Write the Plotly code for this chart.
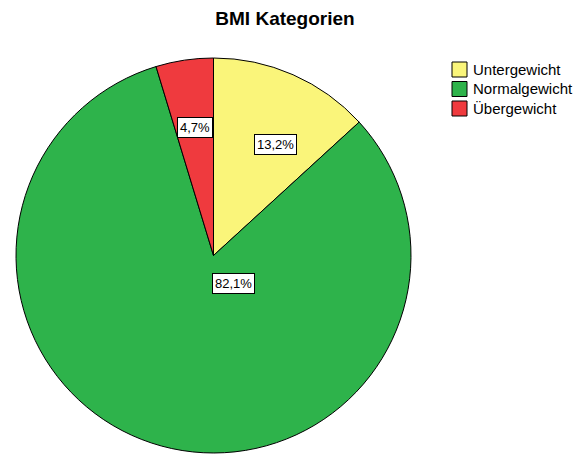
import plotly.graph_objects as go

# Data
categories = ["Untergewicht", "Normalgewicht", "Übergewicht"]
percent_values = [13.2, 82.1, 4.7]
slice_colors = ["#FAF57A", "#2EB34B", "#EF3A3E"]
title_text = "BMI Kategorien"

# Page body has an 8px margin; figure size chosen to fit the window
OFF = 8
W, H = 580, 446


def px(sx):
    return (sx - OFF) / W


def py(sy):
    return 1 - (sy - OFF) / H


FONT = "Liberation Sans, Arial, sans-serif"

fig = go.Figure()
fig.add_trace(go.Pie(
    labels=categories,
    values=percent_values,
    sort=False,
    direction="clockwise",
    rotation=0,
    textinfo="none",
    hoverinfo="label+percent",
    showlegend=False,
    marker=dict(colors=slice_colors, line=dict(color="black", width=1)),
    domain=dict(x=[px(16), px(411)], y=[py(453), py(58)]),
))

# Percentage label boxes (layout positions in screen pixels, text from data)
label_pos = [(275, 144), (233.5, 283), (194.5, 127)]
for val, (sx, sy) in zip(percent_values, label_pos):
    fig.add_annotation(
        x=px(sx), y=py(sy), xref="paper", yref="paper",
        text=f"{val:.1f}%".replace(".", ","),
        showarrow=False,
        font=dict(family=FONT, size=13, color="black"),
        bgcolor="white", bordercolor="black", borderwidth=1, borderpad=2,
        xanchor="center", yanchor="middle",
    )

# Manual legend (SPSS style)
leg_x0, leg_x1 = 452, 467
leg_top0, leg_step, leg_size = 62, 19.5, 15
for i, (cat, col) in enumerate(zip(categories, slice_colors)):
    top = leg_top0 + i * leg_step
    fig.add_shape(type="rect", xref="paper", yref="paper",
                  x0=px(leg_x0), x1=px(leg_x1), y0=py(top + leg_size), y1=py(top),
                  fillcolor=col, line=dict(color="black", width=1))
    fig.add_annotation(x=px(471), y=py(top + leg_size / 2), xref="paper", yref="paper",
                       text=cat, showarrow=False, xanchor="left", yanchor="middle",
                       font=dict(family=FONT, size=15, color="black"))

fig.update_layout(
    width=W, height=H,
    margin=dict(l=0, r=0, t=0, b=0),
    paper_bgcolor="white",
    plot_bgcolor="white",
    title=dict(text=f"<b>{title_text}</b>", x=px(285), xanchor="center",
               y=py(18), yanchor="middle",
               font=dict(family=FONT, size=19, color="black")),
    showlegend=False,
)

fig.write_html("out.html")
